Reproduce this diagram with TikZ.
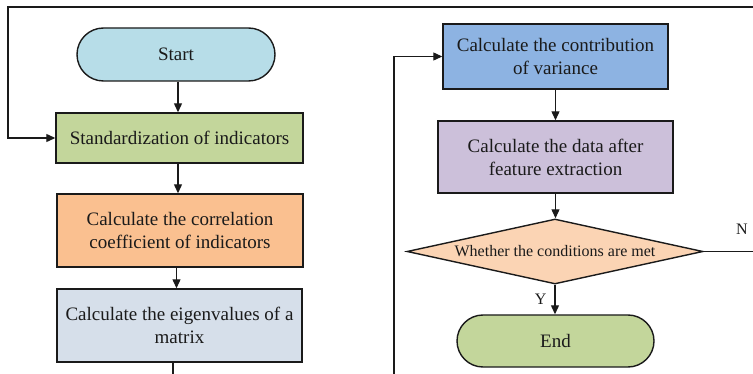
\documentclass[tikz,border=0pt]{standalone}
\usepackage{fontspec}
\setmainfont{Liberation Serif}
\usetikzlibrary{arrows.meta,shapes.geometric,shapes.misc}
\definecolor{cStart}{HTML}{B7DDE8}
\definecolor{cGreen}{HTML}{C3D69B}
\definecolor{cOrange}{HTML}{FAC090}
\definecolor{cSteel}{HTML}{D6DFEA}
\definecolor{cBlue}{HTML}{8DB3E2}
\definecolor{cPurple}{HTML}{CCC0DA}
\definecolor{cPeach}{HTML}{FBD4B4}
\definecolor{cLine}{HTML}{1A1A1A}
\tikzset{
  box/.style={draw=cLine, line width=1.4pt, align=center, inner sep=0pt, text=cLine,
    font=\fontsize{19}{23}\selectfont},
  term/.style={box, rounded rectangle},
  dec/.style={draw=cLine, line width=1.4pt, diamond, shape aspect=4.55, inner sep=0pt, text=cLine,
    font=\fontsize{16}{19}\selectfont},
  conn/.style={draw=cLine, line width=1.2pt},
  arr/.style={conn, -{Triangle[length=9pt,width=8pt]}},
  lbl/.style={text=cLine, font=\fontsize{16}{19}\selectfont, inner sep=0pt}
}
\begin{document}
\begin{tikzpicture}[x=1pt,y=-1pt]
\useasboundingbox (0,0) rectangle (753,374);
% left column
\node[term, fill=cStart, minimum width=198pt, minimum height=53pt] (start) at (176,54.5) {Start};
\node[box, fill=cGreen, minimum width=247pt, minimum height=50pt] (std) at (179.5,138) {Standardization of indicators};
\node[box, fill=cOrange, minimum width=246pt, minimum height=73pt] (corr) at (180,230.5) {Calculate the correlation\\coefficient of indicators};
\node[box, fill=cSteel, minimum width=245pt, minimum height=73pt] (eig) at (179.5,325.5) {Calculate the eigenvalues of a\\matrix};
% right column
\node[box, fill=cBlue, minimum width=225pt, minimum height=65pt] (contrib) at (555.5,56.5) {Calculate the contribution\\of variance};
\node[box, fill=cPurple, minimum width=235pt, minimum height=72pt] (data) at (555.5,157) {Calculate the data after\\feature extraction};
\node[dec, fill=cPeach, minimum width=296pt, minimum height=65pt] (cond) at (555,251.5) {Whether the conditions are met};
\node[term, fill=cGreen, minimum width=197pt, minimum height=52pt] (end) at (555.5,341) {End};
% free ends
\coordinate (topR) at (753,7);
\coordinate (topL) at (8,7);
\coordinate (eigOut) at (173,374);
\coordinate (loopIn) at (394,374);
\coordinate (nOut) at (753,251.5);
% connectors
\draw[arr] (topR) -- (topL) |- (std.west);
\draw[arr] ([xshift=2pt]start.south) -- ([xshift=2pt]start.south |- std.north);
\draw[arr] ([xshift=-1.5pt]std.south) -- ([xshift=-1.5pt]std.south |- corr.north);
\draw[arr] ([xshift=-3.5pt]corr.south) -- ([xshift=-3.5pt]corr.south |- eig.north);
\draw[conn] (eig.south -| eigOut) -- (eigOut);
\draw[arr] (loopIn) |- (contrib.west);
\draw[arr] (contrib.south) -- (contrib.south |- data.north);
\draw[arr] (data.south) -- (data.south |- cond.north);
\draw[arr] (cond.south) -- node[lbl, left=8pt, pos=0.5] (ylab) {Y} (cond.south |- end.north);
\draw[conn] (cond.east) -- (nOut);
\node[lbl] (nlab) at (742,229) {N};
\end{tikzpicture}
\end{document}
